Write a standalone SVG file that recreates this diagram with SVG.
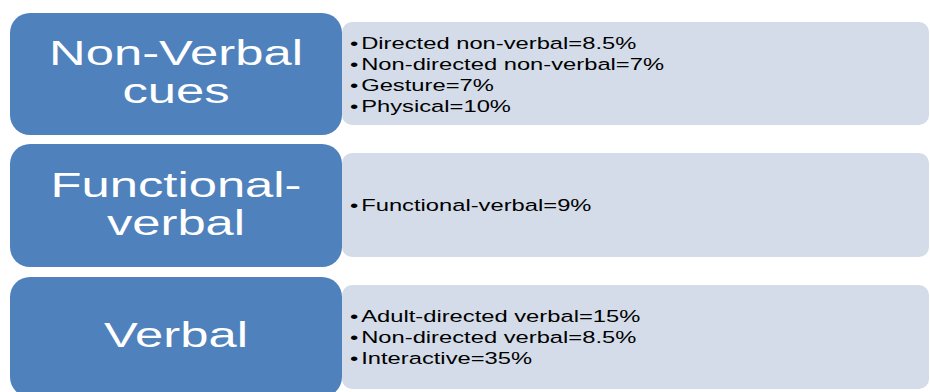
<svg xmlns="http://www.w3.org/2000/svg" width="930" height="392" viewBox="0 0 930 392">
<style>
.hd{fill:#4F81BD;}
.bd{fill:#D4DCE9;}
.ht{font-family:"Liberation Sans",Arial,sans-serif;font-size:35px;fill:#FFFFFF;text-anchor:middle;}
.bt{font-family:"Liberation Sans",Arial,sans-serif;font-size:16.5px;fill:#000000;}
</style>
<rect width="930" height="392" fill="#FFFFFF"/>
<g id="nonverbal">
<rect class="bd" x="342" y="22" width="587" height="103" rx="10"/>
<rect class="hd" x="10" y="13" width="332" height="122" rx="20"/>
<g transform="translate(176,0) scale(1.45,1)">
<text class="ht" x="0" y="65">Non-Verbal</text>
<text class="ht" x="0" y="103">cues</text>
</g>
<g transform="translate(350,0) scale(1.44,1)">
<text class="bt" x="0" y="49">•<tspan dx="2">Directed non-verbal=8.5%</tspan></text>
<text class="bt" x="0" y="70">•<tspan dx="2">Non-directed non-verbal=7%</tspan></text>
<text class="bt" x="0" y="91">•<tspan dx="2">Gesture=7%</tspan></text>
<text class="bt" x="0" y="112">•<tspan dx="2">Physical=10%</tspan></text>
</g>
</g>
<g id="functional">
<rect class="bd" x="342" y="153" width="587" height="104" rx="10"/>
<rect class="hd" x="10" y="144" width="332" height="123" rx="20"/>
<g transform="translate(176,0) scale(1.45,1)">
<text class="ht" x="0" y="197">Functional-</text>
<text class="ht" x="0" y="235">verbal</text>
</g>
<g transform="translate(350,0) scale(1.44,1)">
<text class="bt" x="0" y="211">•<tspan dx="2">Functional-verbal=9%</tspan></text>
</g>
</g>
<g id="verbal">
<rect class="bd" x="342" y="285" width="587" height="104" rx="10"/>
<rect class="hd" x="10" y="277" width="332" height="120" rx="20"/>
<g transform="translate(176,0) scale(1.45,1)">
<text class="ht" x="0" y="347">Verbal</text>
</g>
<g transform="translate(350,0) scale(1.44,1)">
<text class="bt" x="0" y="322">•<tspan dx="2">Adult-directed verbal=15%</tspan></text>
<text class="bt" x="0" y="343">•<tspan dx="2">Non-directed verbal=8.5%</tspan></text>
<text class="bt" x="0" y="364">•<tspan dx="2">Interactive=35%</tspan></text>
</g>
</g>
<g id="connectors"></g>
</svg>
